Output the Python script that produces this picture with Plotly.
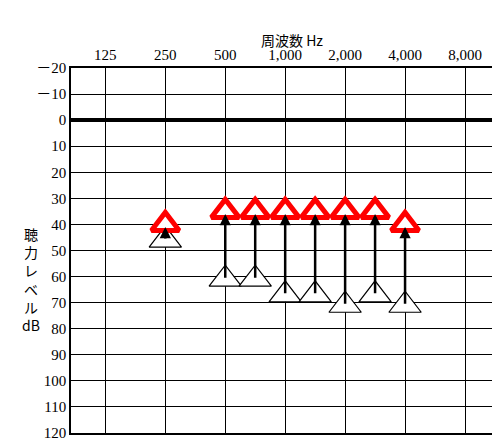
import plotly.graph_objects as go
import numpy as np

freqs = [250, 500, 707, 1000, 1414, 2000, 2828, 4000]
red_db = [40, 35, 35, 35, 35, 35, 35, 40]
white_db = [46, 61, 61, 67, 67, 71, 67, 71]
x_ticks = [125, 250, 500, 1000, 2000, 4000, 8000]
x_labels = ["125", "250", "500", "1,000", "2,000", "4,000", "8,000"]
y_ticks = list(range(-20, 121, 10))
y_labels = ["－20", "－10"] + [str(v) for v in range(0, 121, 10)]

fig = go.Figure()
fig.add_trace(go.Scatter(x=freqs, y=white_db, mode="markers",
    marker=dict(symbol="triangle-up", size=28, color="white", line=dict(color="black", width=1.2)),
    showlegend=False))
fig.add_trace(go.Scatter(x=freqs, y=red_db, mode="markers",
    marker=dict(symbol="triangle-up", size=24, color="white", line=dict(color="#ff0000", width=5)),
    showlegend=False))
for f, r, w in zip(freqs, red_db, white_db):
    fig.add_annotation(x=np.log10(f), y=r + 1, ax=np.log10(f), ay=w, xref="x", yref="y",
        axref="x", ayref="y", showarrow=True, arrowhead=2, arrowsize=0.9, arrowwidth=2.5,
        arrowcolor="black", text="")

font = dict(family="Liberation Serif, Noto Sans CJK JP", size=15, color="black")
fig.add_annotation(x=0.52, y=1.0, xref="paper", yref="paper", yshift=40, text="周波数 Hz",
    showarrow=False, font=dict(family="Noto Sans CJK JP", size=14, color="black"))
fig.add_annotation(x=-0.12, y=0.42, xref="paper", yref="paper",
    text="聴<br>力<br>レ<br>ベ<br>ル<br>dB", showarrow=False, align="center",
    font=dict(family="Noto Sans CJK JP", size=14, color="black"))

fig.update_xaxes(type="log", range=[np.log10(84), np.log10(11450)], side="top",
    tickvals=x_ticks, ticktext=x_labels, showgrid=True, gridcolor="black", gridwidth=1.3,
    showline=True, linecolor="black", linewidth=1.5, mirror=True, ticks="", zeroline=False,
    tickfont=font, automargin=False)
fig.update_yaxes(range=[120, -20], tickvals=y_ticks, ticktext=y_labels, showgrid=True,
    gridcolor="black", gridwidth=1.3, showline=True, linecolor="black", linewidth=1.5,
    mirror=True, ticks="", zeroline=True, zerolinecolor="black", zerolinewidth=3.5,
    tickfont=font, automargin=False)
fig.update_layout(width=500, height=438, margin=dict(l=63, r=12, t=60, b=13),
    plot_bgcolor="white", paper_bgcolor="white")
fig.write_html("out.html")
